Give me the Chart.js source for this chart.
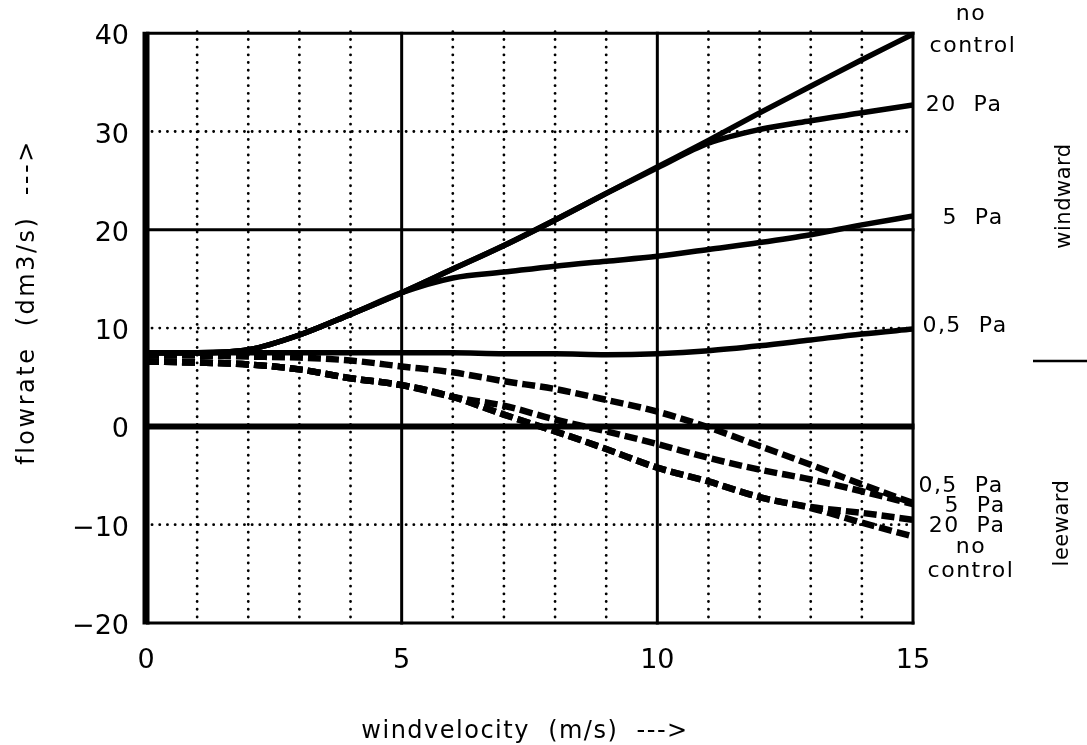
<!DOCTYPE html>
<html>
<head>
<meta charset="utf-8">
<script src="https://cdn.jsdelivr.net/npm/chart.js@4.4.1/dist/chart.umd.min.js"></script>
<style>
  html, body { margin: 0; padding: 0; background: #fff; }
</style>
</head>
<body>
<canvas id="flowChart" width="1087" height="745"></canvas>
<script>
// wind velocity (m/s)
const windSpeed = [0, 1, 2, 3, 4, 5, 6, 7, 8, 9, 10, 11, 12, 13, 14, 15];

// windward side, flowrate (dm3/s)
const windNoControl = [7.5, 7.5, 7.8, 9.3, 11.4, 13.6, 16.0, 18.4, 21.0, 23.7, 26.4, 29.1, 31.9, 34.6, 37.3, 39.9];
const wind20Pa      = [7.5, 7.5, 7.8, 9.3, 11.4, 13.6, 16.0, 18.4, 21.0, 23.7, 26.3, 28.8, 30.2, 31.1, 31.9, 32.7];
const wind5Pa       = [7.5, 7.5, 7.8, 9.3, 11.4, 13.6, 15.1, 15.7, 16.3, 16.8, 17.3, 18.0, 18.7, 19.5, 20.5, 21.4];
const wind05Pa      = [7.5, 7.5, 7.5, 7.5, 7.5, 7.5, 7.5, 7.4, 7.4, 7.3, 7.4, 7.7, 8.2, 8.8, 9.4, 9.9];

// leeward side
const lee05Pa       = [7.2, 7.2, 7.1, 7.0, 6.7, 6.1, 5.5, 4.6, 3.8, 2.7, 1.5, -0.1, -2.0, -3.9, -5.9, -7.8];
const lee5Pa        = [6.6, 6.5, 6.3, 5.8, 4.9, 4.2, 3.0, 2.1, 0.7, -0.5, -1.8, -3.2, -4.4, -5.4, -6.6, -7.9];
const lee20Pa       = [6.6, 6.5, 6.3, 5.8, 4.9, 4.2, 3.0, 1.2, -0.5, -2.3, -4.2, -5.6, -7.2, -8.2, -8.8, -9.5];
const leeNoControl  = [6.6, 6.5, 6.3, 5.8, 4.9, 4.2, 3.0, 1.2, -0.5, -2.3, -4.2, -5.6, -7.2, -8.3, -9.8, -11.2];

const xTicks = [0, 5, 10, 15];
const yTicks = [-20, -10, 0, 10, 20, 30, 40];

const FONT = '"DejaVu Sans", sans-serif';

function pts(vals) {
  return windSpeed.map((x, i) => ({ x, y: vals[i] }));
}
function solid(label, vals) {
  return { label, data: pts(vals), borderColor: '#000', borderWidth: 5.5,
           pointRadius: 0, cubicInterpolationMode: 'monotone', fill: false };
}
function dashed(label, vals) {
  return { label, data: pts(vals), borderColor: '#000', borderWidth: 6.5, borderDash: [13, 5],
           pointRadius: 0, cubicInterpolationMode: 'monotone', fill: false };
}

// grid: dotted every 1 m/s and every 10 dm3/s, solid at 5/10/20, thick borders and zero line
const gridLines = {
  id: 'gridLines',
  beforeDatasetsDraw(chart) {
    const { ctx, chartArea: a, scales: { x, y } } = chart;
    ctx.save();
    ctx.strokeStyle = '#000';
    const line = (x1, y1, x2, y2) => { ctx.beginPath(); ctx.moveTo(x1, y1); ctx.lineTo(x2, y2); ctx.stroke(); };
    for (let v = 0; v <= 15; v++) {
      const px = x.getPixelForValue(v);
      if (v % 5 === 0) {
        ctx.setLineDash([]); ctx.lineCap = 'butt';
        ctx.lineWidth = v === 0 ? 7 : 3;
      } else {
        ctx.setLineDash([0.1, 7.6]); ctx.lineCap = 'round'; ctx.lineWidth = 2.8;
      }
      line(px, a.top - 1.5, px, a.bottom + 1.5);
    }
    for (let v = -20; v <= 40; v += 10) {
      const py = y.getPixelForValue(v);
      if (v % 20 === 0) {
        ctx.setLineDash([]); ctx.lineCap = 'butt';
        ctx.lineWidth = v === 0 ? 6 : 3;
        line(a.left, py, a.right + 1.5, py);
      } else {
        ctx.setLineDash([0.1, 7.6]); ctx.lineCap = 'round'; ctx.lineWidth = 2.8;
        line(a.left + 6, py, a.right - 4, py);
      }
    }
    ctx.restore();
  }
};

// curve names, side labels and axis titles
const annotations = {
  id: 'annotations',
  afterDraw(chart) {
    const { ctx, chartArea: a } = chart;
    const r = a.right;
    ctx.save();
    ctx.fillStyle = '#000';
    ctx.textBaseline = 'alphabetic';
    ctx.font = '22px ' + FONT;
    ctx.letterSpacing = '1.5px';
    const txt = (s, cx, by) => { ctx.textAlign = 'center'; ctx.fillText(s, cx, by); };
    // windward labels
    txt('no', r + 58, 20);
    txt('control', r + 60, 52);
    txt('20  Pa', r + 51, 111);
    txt('5  Pa', r + 60, 224);
    txt('0,5  Pa', r + 52, 332);
    // leeward labels
    txt('0,5  Pa', r + 48, 492);
    txt('5  Pa', r + 62, 512);
    txt('20  Pa', r + 54, 532);
    txt('no', r + 58, 553);
    txt('control', r + 58, 577);

    // side words
    ctx.font = '21px ' + FONT;
    ctx.letterSpacing = '0.5px';
    ctx.textBaseline = 'middle';
    ctx.save(); ctx.translate(1065, 196); ctx.rotate(-Math.PI / 2); txt('windward', 0, 0); ctx.restore();
    ctx.save(); ctx.translate(1063, 523); ctx.rotate(-Math.PI / 2); txt('leeward', 0, 0); ctx.restore();

    // divider between windward and leeward
    ctx.lineWidth = 2.5;
    ctx.beginPath(); ctx.moveTo(1033, 361); ctx.lineTo(1087, 361); ctx.stroke();

    // axis titles
    ctx.font = '24px ' + FONT;
    ctx.letterSpacing = '2.5px';
    ctx.save(); ctx.translate(28, 302); ctx.rotate(-Math.PI / 2); txt('flowrate  (dm3/s)  --->', 0, 0); ctx.restore();
    ctx.letterSpacing = '1.5px';
    txt('windvelocity  (m/s)  --->', 525, 732);
    ctx.restore();
  }
};

new Chart(document.getElementById('flowChart'), {
  type: 'line',
  data: {
    datasets: [
      solid('no control (windward)', windNoControl),
      solid('20 Pa (windward)', wind20Pa),
      solid('5 Pa (windward)', wind5Pa),
      solid('0,5 Pa (windward)', wind05Pa),
      dashed('0,5 Pa (leeward)', lee05Pa),
      dashed('5 Pa (leeward)', lee5Pa),
      dashed('20 Pa (leeward)', lee20Pa),
      dashed('no control (leeward)', leeNoControl)
    ]
  },
  options: {
    responsive: false,
    animation: false,
    devicePixelRatio: 1,
    layout: { padding: { left: 0, right: 174, top: 33, bottom: 0 } },
    plugins: { legend: { display: false }, tooltip: { enabled: false } },
    scales: {
      x: {
        type: 'linear', min: 0, max: 15,
        afterBuildTicks: s => { s.ticks = xTicks.map(v => ({ value: v })); },
        afterFit: s => { s.height = 122; },
        grid: { display: false, drawTicks: false },
        border: { display: false },
        ticks: { color: '#000', font: { family: FONT, size: 27 }, padding: 22, maxRotation: 0 }
      },
      y: {
        type: 'linear', min: -20, max: 40,
        afterBuildTicks: s => { s.ticks = yTicks.map(v => ({ value: v })); },
        afterFit: s => { s.width = 146; },
        grid: { display: false, drawTicks: false },
        border: { display: false },
        ticks: {
          color: '#000', font: { family: FONT, size: 27 }, padding: 17, labelOffset: 4,
          callback: v => (v < 0 ? '\u2212' + Math.abs(v) : String(v))
        }
      }
    }
  },
  plugins: [gridLines, annotations]
});
</script>
</body>
</html>
